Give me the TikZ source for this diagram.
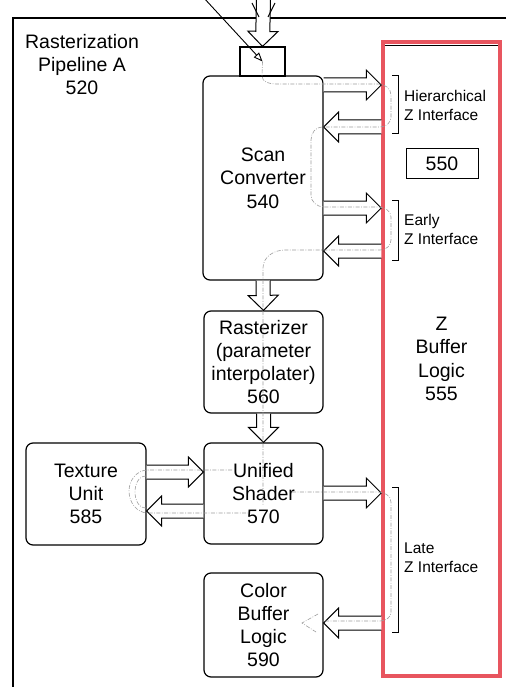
\documentclass[tikz,border=0pt]{standalone}
\usepackage{fontspec}
\setmainfont{Liberation Sans}
\usetikzlibrary{calc,arrows.meta}
\definecolor{zred}{HTML}{E8555F}
\definecolor{flowgray}{HTML}{9C9C9C}

\newcommand\boxfont{\fontsize{19.5}{23.3}\selectfont}
\newcommand\ifacefont{\fontsize{15.5}{19}\selectfont}

% hollow block arrow from #1 to #2
\newcommand\fatarrow[2]{%
  \coordinate (fa-s) at (#1);
  \coordinate (fa-e) at (#2);
  \coordinate (fa-n) at ($(fa-e)!15pt!(fa-s)$);
  \draw[hollow] ($(fa-s)!7pt!90:(fa-e)$) -- ($(fa-n)!7pt!90:(fa-e)$)
    -- ($(fa-n)!15pt!90:(fa-e)$) -- (fa-e) -- ($(fa-n)!15pt!-90:(fa-e)$)
    -- ($(fa-n)!7pt!-90:(fa-e)$) -- ($(fa-s)!7pt!-90:(fa-e)$);}

\tikzset{
  block/.style={draw,line width=1.2pt,rounded corners=7pt,align=center,
    font=\boxfont,inner sep=0pt},
  zbox/.style={draw=zred,line width=3.5pt,align=center,font=\boxfont,inner sep=0pt},
  hollow/.style={line width=1pt,line join=miter,fill=white},
  bracket/.style={line width=1pt},
  iface/.style={align=left,font=\ifacefont,inner sep=0pt,anchor=west},
  flow/.style={flowgray,line width=.6pt,dash pattern=on 4pt off 1.5pt on .8pt off 1.5pt},
}

\begin{document}
\begin{tikzpicture}[x=1pt,y=-1pt]
  \useasboundingbox (0,0) rectangle (506,687);

  % frame of pipeline A
  \draw[line width=1.1pt] (506,18) -- (13,18) -- (13,687);
  \node[align=center,font=\boxfont,inner sep=0pt] (title) at (82,64.5)
    {Rasterization\\Pipeline A\\520};

  % Z buffer
  \draw[line width=.8pt] (381.5,45.5) rectangle (501,674);
  \node[zbox,minimum width=117pt,minimum height=634pt] (zb) at (441.5,359)
    {Z\\Buffer\\Logic\\555};
  \node[draw,line width=1pt,inner sep=0pt,minimum width=72pt,minimum height=29pt,
    font=\boxfont] (id) at (442,163.5) {550};

  \draw[bracket] (392,76) -| (398,134) -- (392,134);
  \draw[bracket] (392,200) -| (398,260) -- (392,260);
  \draw[bracket] (392,487) -| (398,632) -- (392,632);
  \node[iface] (hz) at (404,105) {Hierarchical\\Z Interface};
  \node[iface] (ez) at (404,229) {Early\\Z Interface};
  \node[iface] (lz) at (404,558) {Late\\Z Interface};

  % pipeline blocks
  \node[draw,line width=1.2pt,inner sep=0pt,minimum width=45pt,minimum height=29pt]
    (in) at (262.5,61.5) {};
  \node[block,minimum width=120pt,minimum height=204pt] (sc) at (263,178)
    {Scan\\Converter\\540};
  \node[block,minimum width=119pt,minimum height=102pt] (ra) at (263.5,362)
    {Rasterizer\\(parameter\\interpolater)\\560};
  \node[block,minimum width=119pt,minimum height=101pt] (us) at (263.5,493.5)
    {Unified\\Shader\\570};
  \node[block,minimum width=120pt,minimum height=102pt] (tu) at (86,494)
    {Texture\\Unit\\585};
  \node[block,minimum width=119pt,minimum height=104pt] (cb) at (263.5,625)
    {Color\\Buffer\\Logic\\590};

  % rows of the interface arrows
  \coordinate (hz-out) at (0,85);
  \coordinate (hz-in) at (0,127);
  \coordinate (ez-out) at (0,208);
  \coordinate (ez-in) at (0,251);
  \coordinate (tx-out) at (0,472);
  \coordinate (tx-in) at (0,511);
  \coordinate (lz-out) at (0,493);
  \coordinate (cb-in) at (0,623);

  % inputs
  \coordinate (feed) at (263.5,-2);
  \coordinate (cmd) at (203,-3);
  \fatarrow{feed}{in.north}
  \draw[line width=1pt] (252,3) -- (259,17) (275,3) -- (268,17);
  \draw[line width=.9pt,-{Triangle[open,length=9pt,width=7pt]}] (cmd) -- (in.center);

  \fatarrow{sc.east |- hz-out}{zb.west |- hz-out}
  \fatarrow{zb.west |- hz-in}{sc.east |- hz-in}
  \fatarrow{sc.east |- ez-out}{zb.west |- ez-out}
  \fatarrow{zb.west |- ez-in}{sc.east |- ez-in}
  \fatarrow{sc.south}{ra.north}
  \fatarrow{ra.south}{us.north}
  \fatarrow{tu.east |- tx-out}{us.west |- tx-out}
  \fatarrow{us.west |- tx-in}{tu.east |- tx-in}
  \fatarrow{us.east |- lz-out}{zb.west |- lz-out}
  \fatarrow{zb.west |- cb-in}{cb.east |- cb-in}

  % faint data paths
  \draw[flow] (in.center) -- (262,76) to[out=-90,in=180] (276,84) -- (378,84)
    to[out=0,in=90] (391,95) -- (391,117) to[out=-90,in=0] (380,127) -- (322,127)
    to[out=180,in=90] (311,140) -- (311,195) to[out=-90,in=180] (324,207) -- (378,207)
    to[out=0,in=90] (391,217) -- (391,240) to[out=-90,in=0] (380,250) -- (285,250)
    to[out=180,in=90] (263,268) -- (263,505);
  \draw[flow] (232,470) -- (148,470) to[out=180,in=90] (129,491)
    to[out=-90,in=180] (148,513) -- (250,513);
  \draw[flow] (146,476) to[out=180,in=90] (135,492) to[out=-90,in=180] (146,508);
  \draw[flow] (292,492) -- (378,492) to[out=0,in=90] (391,502) -- (391,612)
    to[out=-90,in=0] (380,621) -- (322,621);
  \draw[flow] (318,614) -- (302,623) -- (316,632);
\end{tikzpicture}
\end{document}
